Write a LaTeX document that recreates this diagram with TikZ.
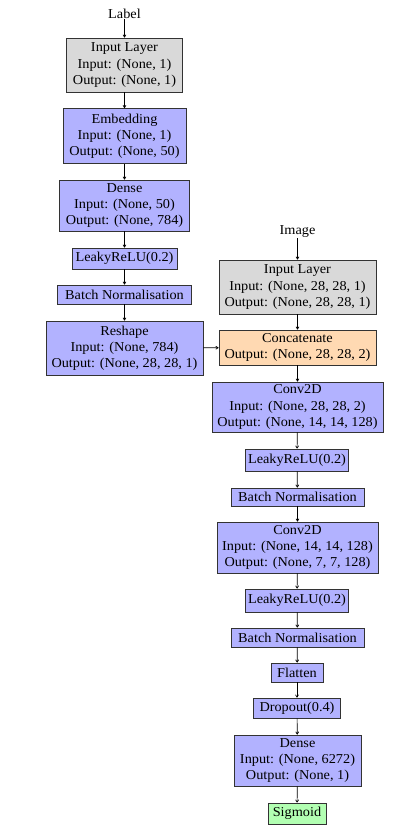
\documentclass[tikz,border=0pt]{standalone}
\usepackage{fontspec}
\setmainfont{Liberation Serif}[FakeStretch=1.05]
\usetikzlibrary{arrows.meta}
\tikzset{
  x=1pt,y=-1pt,
  layer/.style={draw=black!80,line width=0.9pt,align=center,inner sep=0pt,
    font=\fontsize{13.6}{16.2}\selectfont},
  bluebox/.style={layer,fill=blue!30},
  graybox/.style={layer,fill=black!15},
  orangebox/.style={layer,fill=orange!30},
  greenbox/.style={layer,fill=green!30},
  lbl/.style={font=\fontsize{13.6}{16.2}\selectfont,inner sep=0pt},
  conn/.style={draw=black,line width=0.7pt,-{To[length=3pt,width=3.5pt]}},
}
\begin{document}
\begin{tikzpicture}
\useasboundingbox (0,0) rectangle (418,836);
\fill[white] (0,0) rectangle (418,836);
% left column
\node[lbl] (label) at (124.5,14) {Label};
\node[graybox,minimum width=116,minimum height=54] (inl) at (124.5,65) {Input Layer\\Input: (None, 1)\\Output: (None, 1)};
\node[bluebox,minimum width=123,minimum height=55] (emb) at (124.5,136) {Embedding\\Input: (None, 1)\\Output: (None, 50)};
\node[bluebox,minimum width=130,minimum height=51] (dense1) at (124.5,205.5) {Dense\\Input: (None, 50)\\Output: (None, 784)};
\node[bluebox,minimum width=105,minimum height=21] (lr0) at (124.5,258.5) {LeakyReLU(0.2)};
\node[bluebox,minimum width=134,minimum height=19] (bn0) at (124.5,294.5) {Batch Normalisation};
\node[bluebox,minimum width=157,minimum height=54] (resh) at (124.5,348) {Reshape\\Input: (None, 784)\\Output: (None, 28, 28, 1)};
% right column
\node[lbl] (image) at (297.5,232) {Image};
\node[graybox,minimum width=157,minimum height=54] (inr) at (297.5,287) {Input Layer\\Input: (None, 28, 28, 1)\\Output: (None, 28, 28, 1)};
\node[orangebox,minimum width=157,minimum height=35] (cat) at (297.5,347.5) {Concatenate\\Output: (None, 28, 28, 2)};
\node[bluebox,minimum width=171,minimum height=50] (conv1) at (297.5,407) {Conv2D\\Input: (None, 28, 28, 2)\\Output: (None, 14, 14, 128)};
\node[bluebox,minimum width=103,minimum height=22] (lr1) at (297,460) {LeakyReLU(0.2)};
\node[bluebox,minimum width=133,minimum height=18] (bn1) at (297.5,497) {Batch Normalisation};
\node[bluebox,minimum width=161,minimum height=51] (conv2) at (297.5,547.5) {Conv2D\\Input: (None, 14, 14, 128)\\Output: (None, 7, 7, 128)};
\node[bluebox,minimum width=103,minimum height=23] (lr2) at (297,600.5) {LeakyReLU(0.2)};
\node[bluebox,minimum width=133,minimum height=19] (bn2) at (297.5,637.5) {Batch Normalisation};
\node[bluebox,minimum width=52,minimum height=19] (flat) at (297,672.5) {Flatten};
\node[bluebox,minimum width=87,minimum height=20] (drop) at (297,708) {Dropout(0.4)};
\node[bluebox,minimum width=127,minimum height=51] (dense2) at (297.5,760.5) {Dense\\Input: (None, 6272)\\Output: (None, 1)};
\node[greenbox,minimum width=58,minimum height=21] (sig) at (297,813.5) {Sigmoid};
% connectors
\draw[conn] (label) -- (inl);
\draw[conn] (inl) -- (emb);
\draw[conn] (emb) -- (dense1);
\draw[conn] (dense1) -- (lr0);
\draw[conn] (lr0) -- (bn0);
\draw[conn] (bn0) -- (resh);
\draw[conn] (resh) -- (cat);
\draw[conn] (image) -- (inr);
\draw[conn] (inr) -- (cat);
\draw[conn] (cat) -- (conv1);
\draw[conn] (conv1) -- (lr1);
\draw[conn] (lr1) -- (bn1);
\draw[conn] (bn1) -- (conv2);
\draw[conn] (conv2) -- (lr2);
\draw[conn] (lr2) -- (bn2);
\draw[conn] (bn2) -- (flat);
\draw[conn] (flat) -- (drop);
\draw[conn] (drop) -- (dense2);
\draw[conn] (dense2) -- (sig);
\end{tikzpicture}
\end{document}
